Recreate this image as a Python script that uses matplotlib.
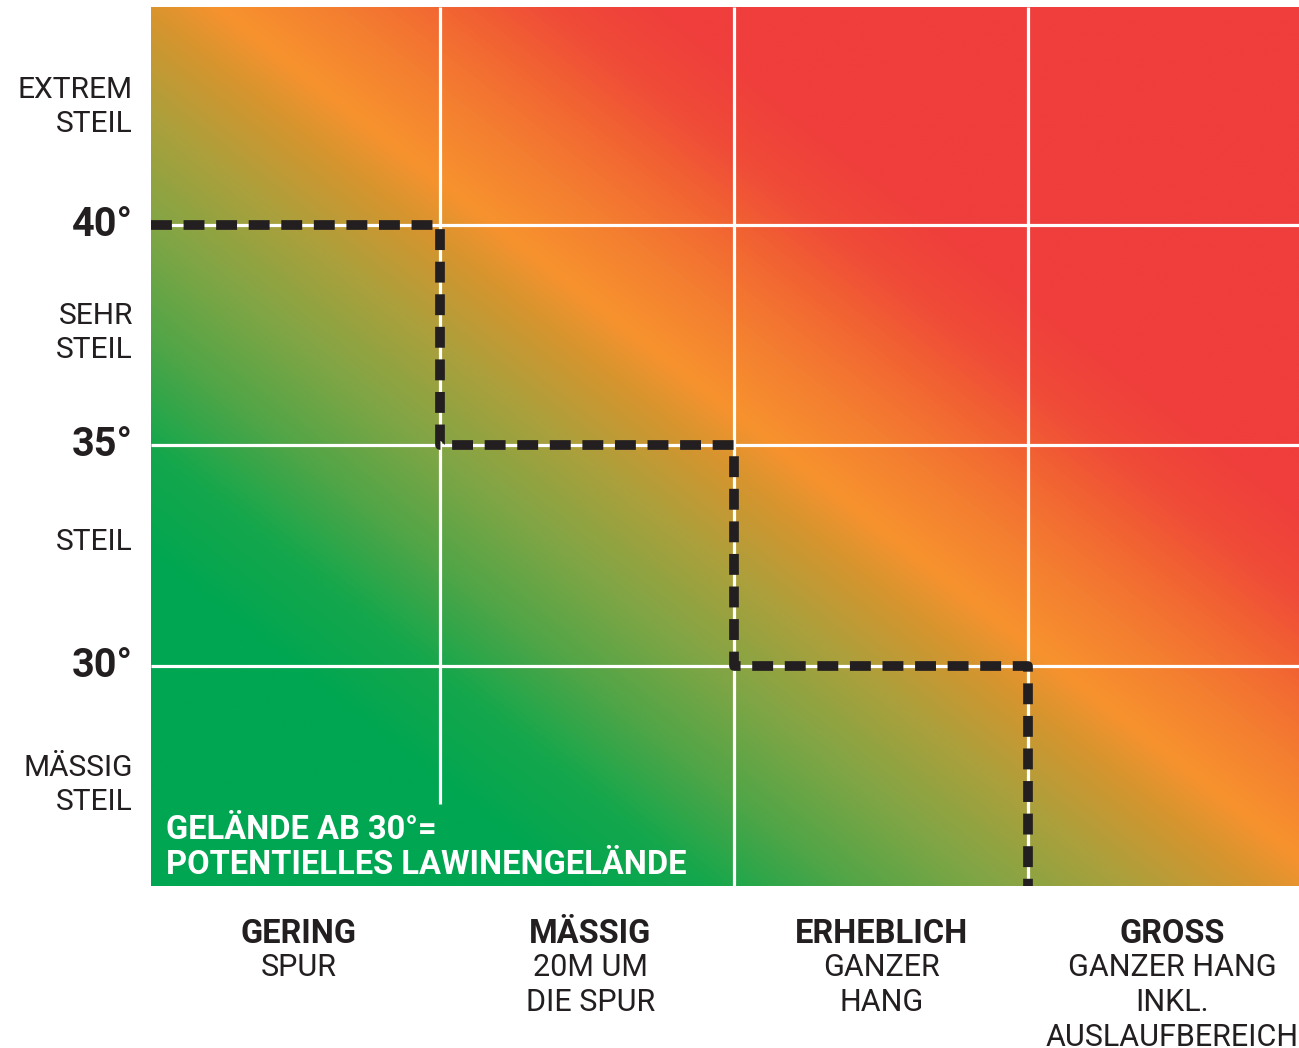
import numpy as np
import matplotlib
matplotlib.use('Agg')
import matplotlib.pyplot as plt
import matplotlib.transforms as mtransforms
from matplotlib.colors import LinearSegmentedColormap

# risk matrix: slope classes (rows) vs. avalanche danger level (columns)
col_titles = ['GERING', 'MÄSSIG', 'ERHEBLICH', 'GROSS']
col_desc = [['SPUR'], ['20M UM', 'DIE SPUR'], ['GANZER', 'HANG'],
            ['GANZER HANG', 'INKL.', 'AUSLAUFBEREICH']]
col_label_x = [0.52, 1.51, 2.5, 3.49]
row_names = ['MÄSSIG\nSTEIL', 'STEIL', 'SEHR\nSTEIL', 'EXTREM\nSTEIL']
row_label_y = [0.46, 1.56, 2.51, 3.535]
angle_labels = ['30°', '35°', '40°']
angle_y = [1, 2, 3]
# critical slope boundary (row index) for each danger level
limit_row = [3, 2, 1, 0]
note = 'GELÄNDE AB 30°=\nPOTENTIELLES LAWINENGELÄNDE'

# gradient stops along 1.05*x + y
grad_pos = [0.0, 1.5, 2.0, 2.5, 3.0, 3.5, 3.95, 4.25, 4.65, 5.05, 5.45, 5.85, 8.5]
grad_col = ['#00a651', '#00a651', '#15a74c', '#50a547', '#80a545', '#aaa03c',
            '#d4952f', '#f7922e', '#f47f30', '#f26632', '#ef4a38', '#ef3e3c',
            '#ef3e3c']

plt.rcParams['font.family'] = ['Roboto', 'DejaVu Sans']

fig = plt.figure(figsize=(12.99, 10.48), dpi=100)
ax = fig.add_axes([151/1299, 162/1048, 1148/1299, 879/1048])

x0, x1, y0, y1 = 0.017, 3.92, 0.0, 3.99
cmap = LinearSegmentedColormap.from_list(
    'risk', list(zip(np.array(grad_pos) / grad_pos[-1], grad_col)))
xs = np.linspace(x0, x1, 800)
ys = np.linspace(y0, y1, 600)
X, Y = np.meshgrid(xs, ys)
ax.imshow(1.05 * X + Y, cmap=cmap, vmin=0, vmax=grad_pos[-1], origin='lower',
          extent=[x0, x1, y0, y1], aspect='auto', interpolation='bilinear')

# white grid
for k in range(1, 4):
    ax.plot([x0, x1], [k, k], color='white', lw=2.3, solid_capstyle='butt')
ax.plot([1, 1], [0.37, y1], color='white', lw=2.3, solid_capstyle='butt')
for k in range(2, 4):
    ax.plot([k, k], [y0, y1], color='white', lw=2.3, solid_capstyle='butt')

# dashed staircase
sx, sy = [x0], [limit_row[0]]
for i, r in enumerate(limit_row):
    if i > 0:
        sx.append(i)
        sy.append(r)
    sx.append(i + 1)
    sy.append(r)
sx, sy = sx[:-1], sy[:-1]
sx.append(len(limit_row) - 1)
sy.append(0)
ax.plot(sx, sy, color='#231f20', lw=7, dashes=(2.15, 1.2),
        dash_capstyle='butt', solid_joinstyle='miter')

ax.set_xlim(x0, x1)
ax.set_ylim(y0, y1)
ax.axis('off')

# left labels
ytrans = mtransforms.blended_transform_factory(ax.transAxes, ax.transData)
for name, y in zip(row_names, row_label_y):
    ax.text(-0.0157, y, name, transform=ytrans, ha='right', va='center',
            fontsize=21.5, fontweight='normal', color='#231f20', linespacing=1.28)
for lab, y in zip(angle_labels, angle_y):
    ax.text(-0.0157, y, lab, transform=ytrans, ha='right', va='center',
            fontsize=28.5, fontweight='bold', color='#231f20')

ax.text(0.013, 0.174, note, transform=ytrans, ha='left', va='center',
        fontsize=23.5, fontweight='bold', color='white', linespacing=1.12)

# bottom labels
xtrans = mtransforms.blended_transform_factory(ax.transData, fig.transFigure)
for xc, title, desc in zip(col_label_x, col_titles, col_desc):
    ax.text(xc, 1 - 934/1048, title, transform=xtrans, ha='center',
            va='center', fontsize=23.5, fontweight='bold', color='#231f20',
            clip_on=False)
    for j, line in enumerate(desc):
        ax.text(xc, 1 - (968 + 34.5 * j)/1048, line, transform=xtrans,
                ha='center', va='center', fontsize=22, fontweight='normal',
                color='#231f20', clip_on=False)

fig.savefig('out.png', dpi=100)
